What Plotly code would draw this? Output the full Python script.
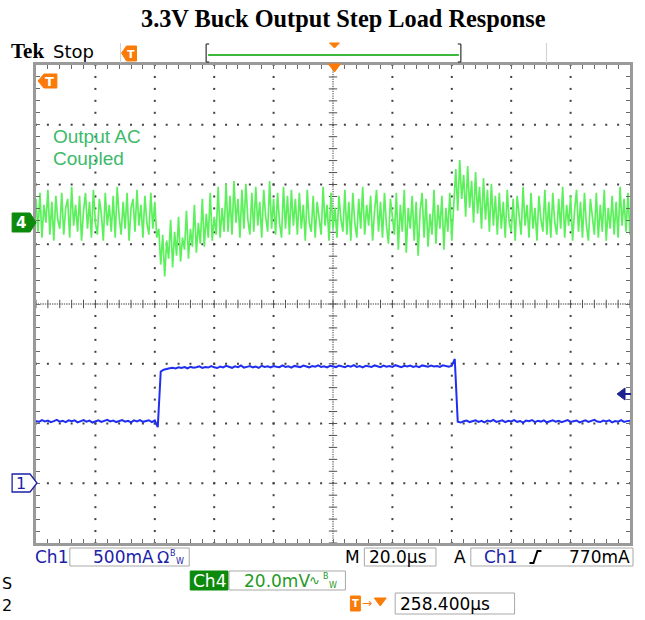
import numpy as np
import plotly.graph_objects as go

# ---------------- data ----------------
title_text = "3.3V Buck Output Step Load Response"

# Ch4: output voltage, AC coupled, mV, one sample every 2/3 us across 200 us
ch4_mV = [
    8, -3, 10, -5, 6, 0, 11, -4, 7, -6,
    9, 1, -2, 10, -4, 5, 8, -5, 12, -1,
    6, -3, 9, -6, 4, 10, -2, 7, -5, 11,
    0, -4, 8, 3, -6, 10, -1, 6, -3, 9,
    -5, 12, 2, -4, 7, -2, 10, -6, 5, 8,
    -3, 11, -1, 6, -5, 9, 0, -4, 10, -2,
    7, -5,
    # load step up -> undershoot
    -2, -14, -4, -18, -6, -12, 1, -15, -3, -11,
    2, -13, -5, -9, 4, -12, -2, -8, 6, -10,
    0, -7, 8, -8, 3, -5, 10, -6, 2, -4,
    12, -5, 5, -3,
    13, -3, 9, -4, 14, 0, 8, -5, 11, -2,
    13, 1, -4, 10, -3, 12, -1, 7, -5, 11,
    2, -3, 14, -2, 8, -4, 10, 0, -5, 12,
    -2, 9, -4, 11, -1,
    8, -4, 10, -2, 6, -6, 11, 0, -3, 9,
    -5, 7, 2, -4, 12, -1, 6, -6, 10, -2,
    5, -5, 9, 1, -3, 11, -4, 7, -6, 10,
    0, -5, 8, -2, 12, -4, 6, -1, 9, -6,
    4, 11, -3, 7, -5, 10, -1, -7, 8, 2,
    -4, 10, -9, 6, -3, 11, -10, 5, -2, 9,
    -6, 7, -11, 4, 10, -5, 8, -8, 3, -4,
    11, -7, 6, -2, 9, -9, 5, -3, 10, -6,
    # load step down -> overshoot
    6, 18, 4, 21, 8, 16, 2, 19, 5, 14,
    0, 17, 3, 12, -2, 15, 1, 11, -3, 13,
    -1, 9,
    -4, 10, -2, 7, -5, 11, 0, -3, 8, -6,
    9, 2, -4, 12, -1, 6, -5, 10, -2, 5,
    -6, 9, 1, -3, 11, -4, 7, -5, 10, 0,
    -4, 8, -2, 12, -5, 6, -1, 9, -6, 4,
    11, -3, 7, -5, 10, -1, -6, 8, 2, -4,
    10, -5, 6, -3, 11, -6, 5, -2, 9, -4,
    7, -5, 12, -1, 8, -3, 10, -4,
]

# Ch1: load current, mA, one sample every 1 us across 200 us
ch1_mA = [
    522, 514, 528, 518, 525, 511, 520, 530, 516, 523,
    512, 527, 519, 526, 510, 521, 529, 515, 524, 508,
    520, 527, 513, 522, 531, 517, 524, 512, 519, 528,
    515, 523, 510, 526, 518, 529, 514, 521, 527, 511,
    525, 470,
    935, 950, 958, 962, 966, 960, 970, 964, 972, 962,
    975, 966, 971, 979, 965, 973, 968, 980, 970, 964,
    976, 969, 982, 971, 966, 978, 972, 985, 968, 974,
    980, 970, 976, 966, 983, 973, 978, 969, 981, 975,
    971, 986, 974, 979, 968, 982, 976, 972, 984, 977,
    970, 981, 975, 987, 973, 979, 969, 983, 976, 972,
    985, 978, 971, 982, 976, 988, 974, 980, 970, 983,
    977, 973, 986, 979, 972, 984, 976, 981, 974, 988,
    978, 972, 983, 977, 985, 974, 980, 971, 986, 979,
    975, 984, 977, 981, 973, 987, 979, 976, 983, 1040,
    515, 508, 519, 524, 512, 521, 527, 514, 522, 509,
    525, 518, 530, 513, 520, 526, 511, 523, 517, 528,
    514, 521, 507, 524, 519, 529, 512, 522, 516, 526,
    510, 520, 527, 515, 523, 511, 518, 528, 513, 521,
    525, 509, 519, 527, 514, 522, 530, 516, 512, 524,
    518, 526, 510, 521, 515, 528, 513, 520, 523,
]

TIME_PER_DIV_US = 20.0
CH4_SAMPLE_US = 200.0 / (len(ch4_mV) - 1)
CH1_SAMPLE_US = 200.0 / (len(ch1_mA) - 1)
CH1_MA_PER_DIV = 500.0
CH4_MV_PER_DIV = 20.0
CH1_POS_DIV = -3.0
CH4_POS_DIV = 1.36

ch1_scale_text = "500mA"
ch4_scale_text = "20.0mV"
timebase_text = "20.0\u00b5s"
trigger_level_text = "770mA"
trigger_pos_text = "258.400\u00b5s"

# ---------------- geometry helpers (pixel -> paper) ----------------
W, H = 645, 620
L, R, T, B = 36, 633, 65, 543


def px(x):
    return (x - L) / (R - L)


def py(y):
    return (B - y) / (B - T)


def path(points, close=True):
    s = "M " + " L ".join(f"{px(x):.5f},{py(y):.5f}" for x, y in points)
    return s + (" Z" if close else "")


BLUE_TXT = "#1c22a8"
GREEN_TXT = "#1f9a1f"
ORANGE = "#fb7b08"
BOXLINE = "#a8a8a8"
RO_SIZE = 17

fig = go.Figure()

# ---------------- graticule ----------------
gx, gy = [], []
for k in [1, 2, 3, 4, 6, 7, 8, 9]:
    for j in np.arange(-4, 4.0001, 0.2):
        gx.append(k)
        gy.append(j)
for m in [-3, -2, -1, 1, 2, 3]:
    for j in np.arange(0, 10.0001, 0.2):
        gx.append(j)
        gy.append(m)
fig.add_trace(go.Scatter(x=gx, y=gy, mode="markers",
                         marker=dict(symbol="square", size=2, color="#404040"),
                         hoverinfo="skip"))
cx = list(np.arange(0, 10.0001, 0.04))
fig.add_trace(go.Scatter(x=cx, y=[0] * len(cx), mode="markers",
                         marker=dict(symbol="square", size=1.3, color="#707070"),
                         hoverinfo="skip"))
cy = list(np.arange(-4, 4.0001, 0.04))
fig.add_trace(go.Scatter(x=[5] * len(cy), y=cy, mode="markers",
                         marker=dict(symbol="square", size=1.3, color="#707070"),
                         hoverinfo="skip"))
tx = list(np.arange(0, 10.0001, 0.2))
fig.add_trace(go.Scatter(x=tx, y=[0] * len(tx), mode="markers",
                         marker=dict(symbol="line-ns", size=6,
                                     line=dict(width=1, color="#505050")),
                         hoverinfo="skip"))
ty = list(np.arange(-4, 4.0001, 0.2))
fig.add_trace(go.Scatter(x=[5] * len(ty), y=ty, mode="markers",
                         marker=dict(symbol="line-ew", size=6,
                                     line=dict(width=1, color="#505050")),
                         hoverinfo="skip"))

# ---------------- waveforms ----------------
x4 = [i * CH4_SAMPLE_US / TIME_PER_DIV_US for i in range(len(ch4_mV))]
y4 = [v / CH4_MV_PER_DIV + CH4_POS_DIV for v in ch4_mV]
fig.add_trace(go.Scatter(x=x4, y=y4, mode="lines",
                         line=dict(color="#5cf05c", width=1.7),
                         hoverinfo="skip"))
x1 = [i * CH1_SAMPLE_US / TIME_PER_DIV_US for i in range(len(ch1_mA))]
y1 = [v / CH1_MA_PER_DIV + CH1_POS_DIV for v in ch1_mA]
fig.add_trace(go.Scatter(x=x1, y=y1, mode="lines",
                         line=dict(color="#1f2ef0", width=2),
                         hoverinfo="skip"))

shapes = []
annots = []


def ann(text, x, y, size=16, color="black", family="DejaVu Sans",
        xanchor="left", yanchor="middle"):
    annots.append(dict(text=text, x=px(x), y=py(y), xref="paper", yref="paper",
                       showarrow=False, xanchor=xanchor, yanchor=yanchor,
                       font=dict(size=size, color=color, family=family)))


def rect(x0, y0, x1, y1, line=BOXLINE, fill="rgba(0,0,0,0)", lw=1):
    shapes.append(dict(type="rect", xref="paper", yref="paper",
                       x0=px(x0), y0=py(y0), x1=px(x1), y1=py(y1),
                       line=dict(color=line, width=lw), fillcolor=fill, layer="above"))


def poly(points, fill, line=None, lw=1, close=True):
    shapes.append(dict(type="path", xref="paper", yref="paper", path=path(points, close),
                       fillcolor=fill if close else None,
                       line=dict(color=line or fill, width=lw), layer="above"))


def seg(x0, y0, x1, y1, color, lw=1):
    shapes.append(dict(type="line", xref="paper", yref="paper",
                       x0=px(x0), y0=py(y0), x1=px(x1), y1=py(y1),
                       line=dict(color=color, width=lw), layer="above"))


# title
ann(f"<b>{title_text}</b>", 345, 19, size=24.3, family="Liberation Serif", xanchor="center")

# header
ann("<b>Tek</b>", 9, 51, size=21, family="Liberation Serif")
ann("Stop", 51, 51, size=18)
seg(121, 43, 121, 63, "#cfcfcf")
seg(549, 43, 549, 63, "#cfcfcf")
poly([(122, 53), (127, 46), (137, 46), (137, 61), (127, 61)], ORANGE)
ann("<b>T</b>", 131, 54, size=11, color="white", xanchor="center")
# record view bar
seg(207, 44, 207, 62, "#333333", 1.2)
seg(207, 44, 210, 44, "#333333", 1.2)
seg(207, 62, 210, 62, "#333333", 1.2)
seg(463, 44, 463, 62, "#333333", 1.2)
seg(460, 44, 463, 44, "#333333", 1.2)
seg(460, 62, 463, 62, "#333333", 1.2)
seg(209, 55, 461, 55, "#3db83d", 2)
poly([(331, 43), (341, 43), (336, 48)], ORANGE)
# trigger position marker on top of graticule
poly([(330, 64), (342, 64), (336, 72)], ORANGE)
# T marker inside graticule
poly([(38, 81), (44, 74), (57, 74), (57, 88), (44, 88)], ORANGE)
ann("<b>T</b>", 50, 82, size=13, color="white", xanchor="center")

# channel markers
poly([(12, 213), (30, 213), (36, 222.5), (30, 232), (12, 232)], "#0b8a0b")
ann("<b>4</b>", 21, 223, size=15, color="white", xanchor="center")
poly([(12, 474), (30, 474), (37, 483), (30, 492), (12, 492)], "white", line=BLUE_TXT, lw=1.3)
ann("1", 21, 483, size=16, color=BLUE_TXT, xanchor="center")
# trigger level marker
poly([(620, 394), (628, 388), (628, 400)], "#1c2290")
seg(627, 394, 634, 394, "#1c2290", 2)

# label
ann("Output AC", 51, 136, size=19, color="#3dba6a", family="Liberation Sans")
ann("Coupled", 51, 158, size=19, color="#3dba6a", family="Liberation Sans")

# ---------------- readouts ----------------
ann("Ch1", 33, 557, size=RO_SIZE, color=BLUE_TXT)
rect(70, 548, 190, 566)
ann(ch1_scale_text, 91, 557, size=RO_SIZE, color=BLUE_TXT)
ann("\u03a9", 156, 557, size=16, color=BLUE_TXT)
ann("B", 169, 553, size=8, color=BLUE_TXT)
ann("W", 175, 561, size=8, color=BLUE_TXT)

ann("M", 345, 557, size=RO_SIZE, color="black")
rect(366, 548, 438, 566)
ann(timebase_text, 369, 557, size=RO_SIZE, color="black")

ann("A", 454, 557, size=RO_SIZE, color="black")
rect(473, 548, 636, 566)
ann("Ch1", 484, 557, size=RO_SIZE, color=BLUE_TXT)
poly([(532, 563), (536, 563), (540, 551), (544, 551)], "black", lw=2, close=False)
ann(trigger_level_text, 635, 557, size=RO_SIZE, color="black", xanchor="right")

rect(191, 571, 229, 590, line="#0b8a0b", fill="#0b8a0b")
ann("Ch4", 210, 580.5, size=RO_SIZE, color="white", xanchor="center")
rect(230, 571, 347, 590)
ann(ch4_scale_text, 243, 580.5, size=RO_SIZE, color=GREEN_TXT)
ann("\u223f", 308, 580, size=13, color=GREEN_TXT)
ann("B", 322, 576, size=8, color=GREEN_TXT)
ann("W", 328, 585, size=8, color=GREEN_TXT)

rect(352, 596, 362, 611, line=ORANGE, fill=ORANGE)
ann("<b>T</b>", 357, 603.5, size=10, color="white", xanchor="center")
ann("\u2192", 362, 603, size=12, color=ORANGE)
poly([(376, 598), (388, 598), (382, 606)], ORANGE)
rect(397, 593, 517, 614)
ann(trigger_pos_text, 400, 603.5, size=RO_SIZE, color="black")

ann("S", 0, 583, size=16, color="black")
ann("2", 0, 605, size=16, color="black")

axis_common = dict(showgrid=False, zeroline=False, showticklabels=False,
                   showline=True, mirror="ticks", linecolor="#9a9a9a", linewidth=3,
                   ticks="inside", tick0=0, dtick=0.2, ticklen=4, tickwidth=1,
                   tickcolor="#6a6a6a", fixedrange=True)

fig.update_layout(
    width=W, height=H, autosize=False,
    margin=dict(l=L, r=W - R, t=T, b=H - B),
    paper_bgcolor="white", plot_bgcolor="white",
    showlegend=False,
    xaxis=dict(range=[0, 10], **axis_common),
    yaxis=dict(range=[-4, 4], **axis_common),
    shapes=shapes, annotations=annots,
)

fig.write_html("out.html", config={"displayModeBar": False},
               post_script="document.body.style.margin='0px';document.body.style.padding='0px';")
